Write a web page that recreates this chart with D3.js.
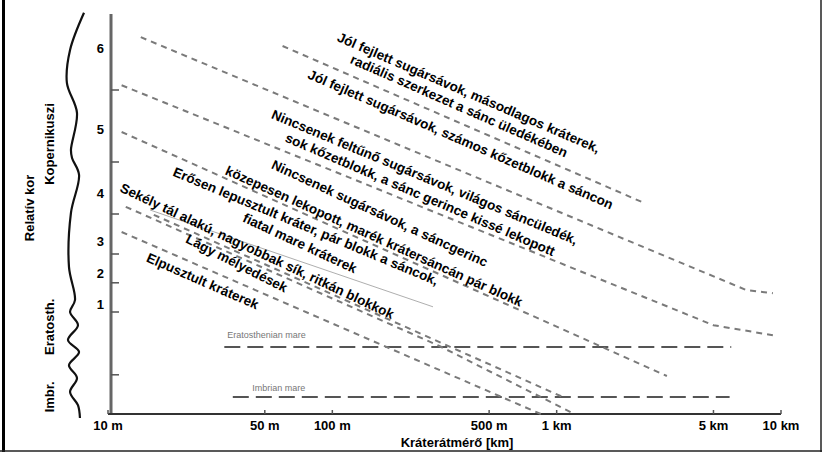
<!DOCTYPE html>
<html>
<head>
<meta charset="utf-8">
<script src="https://cdn.jsdelivr.net/npm/d3@7"></script>
<style>
  body { margin: 0; background: #fff; }
  svg { display: block; font-family: "Liberation Sans", Arial, sans-serif; }
</style>
</head>
<body>
<div class="chart"></div>
<script>
// diameter axis (m), log scale
var diameterTicks = [10, 50, 100, 500, 1000, 5000, 10000];
var diameterLabels = ["10 m", "50 m", "100 m", "500 m", "1 km", "5 km", "10 km"];

// relative age axis (arbitrary units, 0 = oldest)
var ageTicks = [8.1, 6.3, 5.0, 4.0, 3.28, 2.55, 0.98];
var ageLabelValues = [9.15, 7.12, 5.52, 4.32, 3.52, 2.75];
var ageLabels = ["6", "5", "4", "3", "2", "1"];

// degradation class boundaries: [diameter m, relative age]
var lineA = [[60, 9.2], [2400, 5.3]];
var lineB = [[14, 9.42], [7000, 3.1], [9200, 3.02]];
var lineC = [[11.5, 8.22], [5000, 2.22], [9200, 1.97]];
var lineD = [[11.5, 7.05], [3100, 0.95]];
var lineE = [[12, 5.18], [300, 1.7], [1200, 0]];
var lineF = [[11.5, 4.55], [850, 0]];
var lineG = [[16, 4.98], [1070, 0.42]];
var classLines = [lineA, lineB, lineC, lineD, lineE, lineF, lineG];
var thinLine = [[15.4, 5.1], [281, 2.68]];

// mare surfaces
var mareNames = ["Eratosthenian mare", "Imbrian mare"];
var mareAges = [1.675, 0.425];
var mareFrom = [33, 36];
var mareTo = [6000, 5900];
var mareLabelAt = [[34, 1.9], [44, 0.58]];

// class descriptions
var classTexts = [
  "Jól fejlett sugársávok, másodlagos kráterek,",
  "radiális szerkezet a sánc üledékében",
  "Jól fejlett sugársávok, számos kőzetblokk a sáncon",
  "Nincsenek feltűnő sugársávok, világos sáncüledék,",
  "sok kőzetblokk, a sánc gerince kissé lekopott",
  "Nincsenek sugársávok, a sáncgerinc",
  "közepesen lekopott, marék krátersáncán pár blokk",
  "Erősen lepusztult kráter, pár blokk a sáncok,",
  "fiatal mare kráterek",
  "Sekély tál alakú, nagyobbak sík, ritkán blokkok",
  "Lágy mélyedések",
  "Elpusztult kráterek"
];
var classTextAt = [
  [104, 9.33], [119, 8.78], [77, 8.4], [53, 7.4], [61, 6.82], [53, 6.15],
  [33, 6.0], [19.3, 5.96], [39.5, 4.82], [11.2, 5.57], [22, 4.3], [14.7, 3.82]
];
var classTextAngle = [23.3, 23.7, 23.4, 22.6, 23.2, 24.8, 24.2, 22.6, 25, 25.2, 27, 23.6];

// stratigraphic column sketch: [relative age, sway]
var stratCurve = [
  [10.03, 1.0], [9.1, -0.55], [8.28, -0.9], [7.53, 0.22], [6.6, -0.45], [6.4, -0.33],
  [5.98, 0.45], [5.03, -0.45], [3.68, -0.67], [2.85, 0], [2.55, -0.55], [2.22, 0.33],
  [1.85, -0.78], [1.55, 0.45], [1.22, -0.67], [0.9, 0.22], [0.55, -0.55], [0.22, 0.33], [-0.1, 0.55]
];
var periodNames = ["Kopernikuszi", "Eratosth.", "Imbr."];
var periodAges = [6.75, 2.18, 0.43];

var width = 822, height = 452;

var svg = d3.select(".chart")
    .append("svg")
    .attr("width", width)
    .attr("height", height);

var x = d3.scaleLog().domain([10, 10000]).range([108, 781]);
var y = d3.scaleLinear().domain([0, 10]).range([414, 14]);
var sway = d3.scaleLinear().domain([-1, 1]).range([66, 84]);

// frame
svg.append("line").attr("x1", 3.5).attr("x2", 3.5).attr("y1", 0).attr("y2", height)
  .attr("stroke", "#000").attr("stroke-width", 3);
svg.append("line").attr("x1", width - 1).attr("x2", width - 1).attr("y1", 0).attr("y2", height)
  .attr("stroke", "#222").attr("stroke-width", 1.5);
svg.append("line").attr("x1", 0).attr("x2", width).attr("y1", height - 1).attr("y2", height - 1)
  .attr("stroke", "#222").attr("stroke-width", 1.5);

// strat curve
svg.append("path")
  .datum(stratCurve)
  .attr("fill", "none")
  .attr("stroke", "#111")
  .attr("stroke-width", 2.2)
  .attr("d", d3.line()
    .x(function(d){ return sway(d[1]); })
    .y(function(d){ return y(d[0]); })
    .curve(d3.curveCatmullRom));

svg.append("text")
  .attr("transform", "translate(34," + y(5.15) + ") rotate(-90)")
  .attr("text-anchor", "middle")
  .attr("font-size", 13).attr("font-weight", "bold")
  .text("Relatív kor");

svg.selectAll(".period")
  .data(periodNames)
  .enter().append("text")
  .attr("class", "period")
  .attr("transform", function(d, i){ return "translate(54," + y(periodAges[i]) + ") rotate(-90)"; })
  .attr("text-anchor", "middle")
  .attr("font-size", 13).attr("font-weight", "bold")
  .text(function(d){ return d; });

// y axis
svg.append("line")
  .attr("x1", 111).attr("x2", 111).attr("y1", y(10)).attr("y2", y(0))
  .attr("stroke", "#666").attr("stroke-width", 3);

svg.selectAll(".ytick")
  .data(ageTicks)
  .enter().append("line")
  .attr("x1", 111).attr("x2", 119)
  .attr("y1", function(d){ return y(d); })
  .attr("y2", function(d){ return y(d); })
  .attr("stroke", "#555").attr("stroke-width", 1.5);

svg.selectAll(".ylab")
  .data(ageLabels)
  .enter().append("text")
  .attr("x", 104)
  .attr("y", function(d, i){ return y(ageLabelValues[i]); })
  .attr("dy", "0.35em")
  .attr("text-anchor", "end")
  .attr("font-size", 13).attr("font-weight", "bold")
  .text(function(d){ return d; });

// x axis
svg.append("line")
  .attr("x1", 108).attr("x2", x(10000)).attr("y1", y(0)).attr("y2", y(0))
  .attr("stroke", "#333").attr("stroke-width", 2);

svg.selectAll(".xtick")
  .data(diameterTicks)
  .enter().append("line")
  .attr("x1", function(d){ return x(d); })
  .attr("x2", function(d){ return x(d); })
  .attr("y1", y(0)).attr("y2", y(0) - 4)
  .attr("stroke", "#555").attr("stroke-width", 1.5);

svg.selectAll(".xlab")
  .data(diameterLabels)
  .enter().append("text")
  .attr("x", function(d, i){ return x(diameterTicks[i]); })
  .attr("y", 430)
  .attr("text-anchor", "middle")
  .attr("font-size", 13).attr("font-weight", "bold")
  .text(function(d){ return d; });

svg.append("text")
  .attr("x", 457).attr("y", 447)
  .attr("text-anchor", "middle")
  .attr("font-size", 13).attr("font-weight", "bold")
  .text("Kráterátmérő [km]");

var line = d3.line()
  .x(function(d){ return x(d[0]); })
  .y(function(d){ return y(d[1]); });

// mare levels
svg.selectAll(".mare")
  .data(mareAges)
  .enter().append("line")
  .attr("x1", function(d, i){ return x(mareFrom[i]); })
  .attr("x2", function(d, i){ return x(mareTo[i]); })
  .attr("y1", function(d){ return y(d); })
  .attr("y2", function(d){ return y(d); })
  .attr("stroke", "#555").attr("stroke-width", 2.2)
  .attr("stroke-dasharray", "16,7");

svg.selectAll(".marelab")
  .data(mareNames)
  .enter().append("text")
  .attr("x", function(d, i){ return x(mareLabelAt[i][0]); })
  .attr("y", function(d, i){ return y(mareLabelAt[i][1]); })
  .attr("font-size", 9).attr("fill", "#777")
  .text(function(d){ return d; });

// class boundary lines
svg.selectAll(".cls")
  .data(classLines)
  .enter().append("path")
  .attr("fill", "none")
  .attr("stroke", "#7a7a7a")
  .attr("stroke-width", 2)
  .attr("stroke-dasharray", "6,5")
  .attr("d", line);

svg.append("path")
  .datum(thinLine)
  .attr("fill", "none")
  .attr("stroke", "#999")
  .attr("stroke-width", 0.8)
  .attr("d", line);

// class descriptions
svg.selectAll(".desc")
  .data(classTexts)
  .enter().append("text")
  .attr("transform", function(d, i){
    return "translate(" + x(classTextAt[i][0]) + "," + y(classTextAt[i][1]) + ") rotate(" + classTextAngle[i] + ")";
  })
  .attr("font-size", 13.5).attr("font-weight", "bold")
  .text(function(d){ return d; });
</script>
</body>
</html>
